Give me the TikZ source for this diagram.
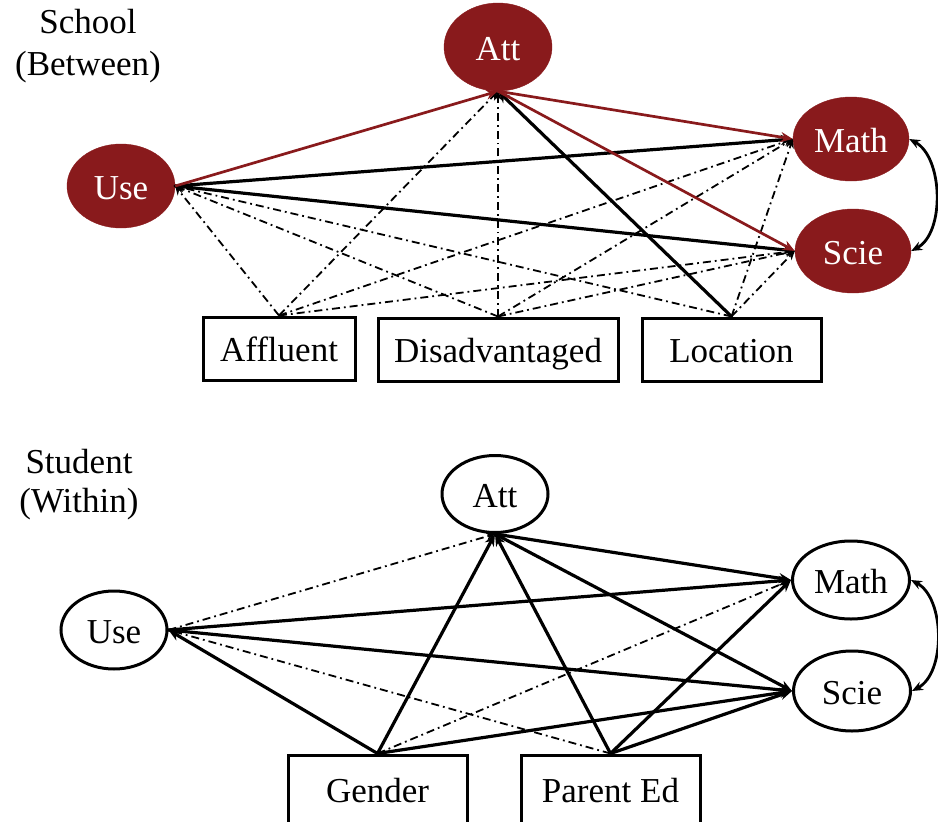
\documentclass[tikz,border=0pt]{standalone}
\usepackage{fontspec}
\setmainfont{Liberation Serif}
\usetikzlibrary{shapes.geometric,arrows.meta}
\definecolor{schoolred}{RGB}{137,26,28}

\begin{document}
\begin{tikzpicture}[x=1pt,y=-1pt,
  font=\fontsize{35}{42}\selectfont,
  lat/.style={ellipse, inner sep=0pt, text height=26pt, text depth=0pt},
  schoolvar/.style={lat, fill=schoolred, draw=schoolred, text=white},
  studentvar/.style={lat, draw=black, line width=3pt},
  obs/.style={rectangle, draw=black, line width=3pt, inner sep=0pt,
              text height=25pt, text depth=0pt},
  sig/.style={-{Stealth[length=12pt,width=10pt]}, line width=3.2pt, line cap=round},
  sigred/.style={-{Stealth[length=12pt,width=10pt]}, draw=schoolred, line width=2.7pt},
  ns/.style={-{Stealth[length=9pt,width=8pt]}, line width=1.8pt,
             dash pattern=on 8pt off 4pt on 1.8pt off 4pt},
  cov/.style={{Stealth[length=11pt,width=9pt]}-{Stealth[length=11pt,width=9pt]},
              line width=2.8pt}
]
\useasboundingbox (0,0) rectangle (938,822);

% ---------------- school level ----------------
\node[align=center, inner sep=0pt] (lblB) at (88,46) {School\\(Between)};

\node[schoolvar, minimum width=108pt, minimum height=88pt] (AttB)  at (498,47)  {Att};
\node[schoolvar, minimum width=108pt, minimum height=84pt] (UseB)  at (121,186) {Use};
\node[schoolvar, minimum width=116pt, minimum height=84pt] (MathB) at (851,139) {Math};
\node[schoolvar, minimum width=116pt, minimum height=84pt] (ScieB) at (853,251) {Scie};

\node[obs, minimum width=152pt, minimum height=63pt] (Aff) at (279,348.5)   {Affluent};
\node[obs, minimum width=240pt, minimum height=63pt] (Dis) at (498,349.5)   {Disadvantaged};
\node[obs, minimum width=179pt, minimum height=63pt] (Loc) at (731.5,349.5) {Location};

% non-significant paths
\foreach \src in {Aff,Dis} \draw[ns] (\src.north) -- (AttB.south);
\foreach \src in {Aff,Dis,Loc} {
  \draw[ns] (\src.north) -- (UseB.east);
  \draw[ns] (\src.north) -- (MathB.west);
  \draw[ns] (\src.north) -- (ScieB.west);
}
% significant paths
\draw[sig] (UseB.east) -- (MathB.west);
\draw[sig] (UseB.east) -- (ScieB.west);
\draw[sig] (Loc.north) -- (AttB.south);
\draw[sigred] (UseB.east) -- (AttB.south);
\draw[sigred] (AttB.south) -- (MathB.west);
\draw[sigred] (AttB.south) -- (ScieB.west);
\draw[cov] (MathB.east) .. controls +(34,18) and +(34,-18) .. (ScieB.east);

% ---------------- student level ----------------
\node[align=center, inner sep=0pt, font=\fontsize{35}{39}\selectfont] (lblW) at (79,485) {Student\\(Within)};

\node[studentvar, minimum width=106pt, minimum height=77pt] (AttW)  at (495,494) {Att};
\node[studentvar, minimum width=106pt, minimum height=78pt] (UseW)  at (114,630) {Use};
\node[studentvar, minimum width=117pt, minimum height=78pt] (MathW) at (851,580) {Math};
\node[studentvar, minimum width=117pt, minimum height=80pt] (ScieW) at (852,691) {Scie};

\node[obs, minimum width=179pt, minimum height=70pt] (Gen) at (377.5,790) {Gender};
\node[obs, minimum width=179pt, minimum height=70pt] (Par) at (610.5,790) {Parent Ed};

% non-significant paths
\draw[ns] (UseW.east) -- (AttW.south);
\draw[ns] (Par.north) -- (UseW.east);
\draw[ns] (Gen.north) -- (MathW.west);
% significant paths
\draw[sig] (AttW.south) -- (MathW.west);
\draw[sig] (AttW.south) -- (ScieW.west);
\draw[sig] (UseW.east) -- (MathW.west);
\draw[sig] (UseW.east) -- (ScieW.west);
\draw[sig] (Gen.north) -- (UseW.east);
\draw[sig] (Gen.north) -- (AttW.south);
\draw[sig] (Gen.north) -- (ScieW.west);
\draw[sig] (Par.north) -- (AttW.south);
\draw[sig] (Par.north) -- (MathW.west);
\draw[sig] (Par.north) -- (ScieW.west);
\draw[cov] (MathW.east) .. controls +(34,18) and +(34,-18) .. (ScieW.east);
\end{tikzpicture}
\end{document}
